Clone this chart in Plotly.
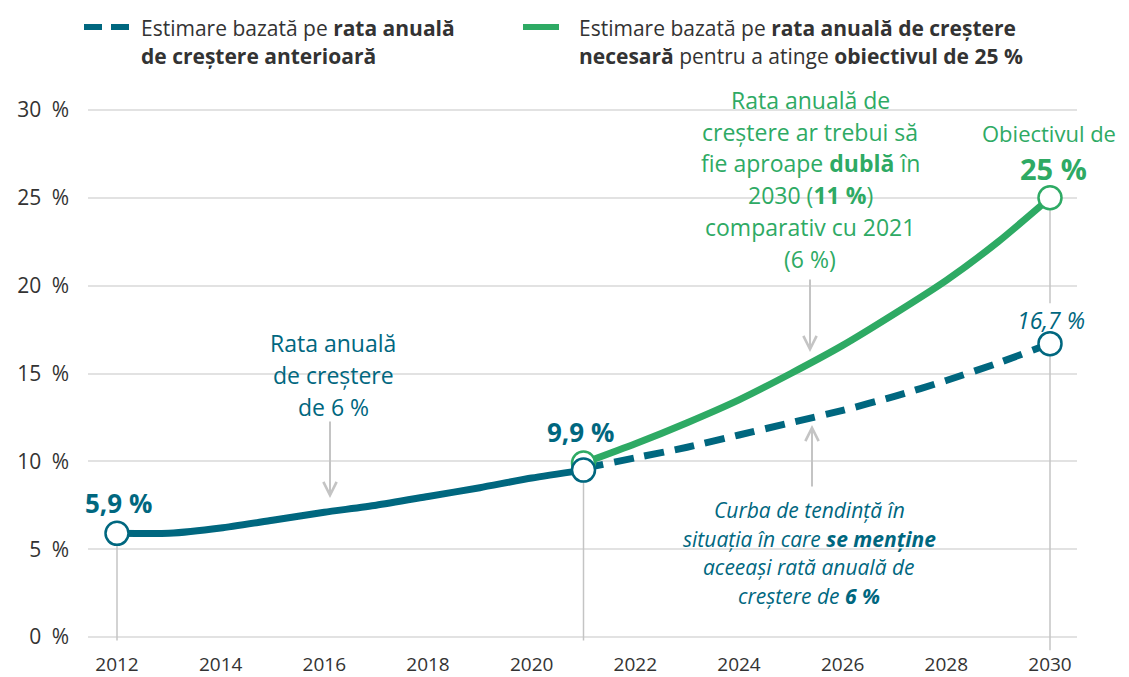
import plotly.graph_objects as go

# ---------------- data ----------------
hist_years = [2012, 2013, 2014, 2015, 2016, 2017, 2018, 2019, 2020, 2021]
hist_vals = [5.9, 5.9, 6.2, 6.65, 7.1, 7.5, 8.0, 8.5, 9.05, 9.5]

proj_years = [2021, 2022, 2023, 2024, 2025, 2026, 2027, 2028, 2029, 2030]
trend_vals = [9.6, 10.2, 10.8, 11.5, 12.2, 12.9, 13.7, 14.6, 15.6, 16.7]
target_vals = [9.9, 11.0, 12.2, 13.5, 15.0, 16.6, 18.4, 20.3, 22.5, 25.0]

y_tick_vals = [0, 5, 10, 15, 20, 25, 30]
y_tick_text = ["0\u2002%", "5\u2002%", "10\u2002%", "15\u2002%", "20\u2002%", "25\u2002%", "30\u2002%"]
x_tick_vals = [2012, 2014, 2016, 2018, 2020, 2022, 2024, 2026, 2028, 2030]

# ---------------- style ----------------
TEAL = "#00677f"
GREEN = "#2eaa64"
TXT = "#333333"
GRAY = "#c4c4c4"
GRID = "#e2e2e2"
FONT = "Open Sans"

OFF = 8                      # page body margin
W, H = 1129 - OFF, 677 - OFF
SL, SR, ST, SB = 88, 1077, 105, 651   # plot area in screen pixels


def px(xp):
    return (xp - SL) / (SR - SL)


def py(yp):
    return (SB - yp) / (SB - ST)


fig = go.Figure()

fig.add_trace(go.Scatter(x=hist_years, y=hist_vals, mode="lines",
                         line=dict(color=TEAL, width=7, shape="spline", smoothing=0.6),
                         showlegend=False, hoverinfo="skip"))
fig.add_trace(go.Scatter(x=proj_years, y=trend_vals, mode="lines",
                         line=dict(color=TEAL, width=7, dash="20px,11px", shape="spline", smoothing=0.6),
                         showlegend=False, hoverinfo="skip"))
fig.add_trace(go.Scatter(x=proj_years, y=target_vals, mode="lines",
                         line=dict(color=GREEN, width=7, shape="spline", smoothing=0.6),
                         showlegend=False, hoverinfo="skip"))
# circles
fig.add_trace(go.Scatter(x=[proj_years[0], proj_years[-1]], y=[target_vals[0], target_vals[-1]],
                         mode="markers",
                         marker=dict(symbol="circle", size=23, color="white", line=dict(color=GREEN, width=2.5)),
                         showlegend=False, hoverinfo="skip"))
fig.add_trace(go.Scatter(x=[hist_years[0], hist_years[-1], proj_years[-1]],
                         y=[hist_vals[0], hist_vals[-1], trend_vals[-1]],
                         mode="markers",
                         marker=dict(symbol="circle", size=23, color="white", line=dict(color=TEAL, width=2.5)),
                         showlegend=False, hoverinfo="skip"))

shapes = []
# white masks behind text blocks (between grid and traces)
for (x0, x1, y0, y1) in [(690, 928, 85, 274), (257, 410, 325, 422), (672, 946, 495, 610)]:
    shapes.append(dict(type="rect", xref="paper", yref="paper", x0=px(x0), x1=px(x1),
                       y0=py(y1), y1=py(y0), fillcolor="white", line=dict(width=0), layer="between"))
# vertical drop lines
for xv, ytop in [(hist_years[0], hist_vals[0]), (hist_years[-1], hist_vals[-1])]:
    shapes.append(dict(type="line", xref="x", yref="y", x0=xv, x1=xv, y0=-0.2, y1=ytop,
                       line=dict(color=GRAY, width=1.5), layer="between"))
shapes.append(dict(type="line", xref="x", yref="y", x0=proj_years[-1], x1=proj_years[-1],
                   y0=-0.75, y1=trend_vals[-1], line=dict(color=GRAY, width=1.5), layer="between"))
shapes.append(dict(type="line", xref="x", yref="y", x0=proj_years[-1], x1=proj_years[-1],
                   y0=19.0, y1=target_vals[-1], line=dict(color=GRAY, width=1.5), layer="between"))
# legend icons
shapes.append(dict(type="line", xref="paper", yref="paper", x0=px(84), x1=px(102), y0=py(27), y1=py(27),
                   line=dict(color=TEAL, width=6)))
shapes.append(dict(type="line", xref="paper", yref="paper", x0=px(111), x1=px(129), y0=py(27), y1=py(27),
                   line=dict(color=TEAL, width=6)))
shapes.append(dict(type="line", xref="paper", yref="paper", x0=px(523), x1=px(559), y0=py(27), y1=py(27),
                   line=dict(color=GREEN, width=6)))

ann = []


def text(x, y, s, color=TXT, size=18, anchor="center", italic=False):
    ann.append(dict(x=px(x), y=py(y), xref="paper", yref="paper", text=s, showarrow=False,
                    xanchor=anchor, yanchor="middle",
                    font=dict(family=FONT, size=size, color=color,
                              style="italic" if italic else "normal")))


# legend texts
text(139, 28, "Estimare bazată pe <b>rata anuală</b>", size=21, anchor="left")
text(139, 56, "<b>de creștere anterioară</b>", size=21, anchor="left")
text(577, 28, "Estimare bazată pe <b>rata anuală de creștere</b>", size=21, anchor="left")
text(577, 56, "<b>necesară</b> pentru a atinge <b>obiectivul de 25 %</b>", size=21, anchor="left")

# green block
for i, s in enumerate(["Rata anuală de", "creștere ar trebui să", "fie aproape <b>dublă</b> în",
                       "2030 (<b>11 %</b>)", "comparativ cu 2021", "(6 %)"]):
    text(810, 100 + 31.7 * i, s, color=GREEN, size=23)
# teal left block
for i, s in enumerate(["Rata anuală", "de creștere", "de 6 %"]):
    text(333, 343 + 32 * i, s, color=TEAL, size=23)
# italic block
for i, s in enumerate(["Curba de tendință în", "situația în care <b>se menține</b>",
                       "aceeași rată anuală de", "creștere de <b>6 %</b>"]):
    text(809, 510 + 28.5 * i, s, color=TEAL, size=21, italic=True)

text(1118, 133, "Obiectivul de", color=GREEN, size=22, anchor="right")
text(1053, 168, "<b>25 %</b>", color=GREEN, size=29)
text(118, 503, "<b>5,9 %</b>", color=TEAL, size=26)
text(580, 432, "<b>9,9 %</b>", color=TEAL, size=26)
text(1051, 320, "16,7 %", color=TEAL, size=23, italic=True)

# arrows
for hx, hy, tx, ty in [(330, 498, 330, 420), (810, 352, 810, 278), (812, 425, 812, 488)]:
    ann.append(dict(x=px(hx), y=py(hy), xref="paper", yref="paper", text="", showarrow=True,
                    ax=tx - hx, ay=ty - hy, axref="pixel", ayref="pixel",
                    arrowhead=5, arrowsize=1.3, arrowwidth=2, arrowcolor=GRAY, standoff=0))

fig.update_layout(
    width=W, height=H,
    margin=dict(l=SL - OFF, r=(W + OFF) - SR, t=ST - OFF, b=(H + OFF) - SB, autoexpand=False),
    paper_bgcolor="white", plot_bgcolor="white",
    font=dict(family=FONT, color=TXT, size=20),
    shapes=shapes, annotations=ann,
    xaxis=dict(range=[2011.4405, 2030.5209], tickvals=x_tick_vals, showgrid=False, zeroline=False,
               showline=False, ticks="", tickfont=dict(size=19, color=TXT), ticklabelstandoff=0,
               automargin=False),
    yaxis=dict(range=[-0.797, 30.285], tickvals=y_tick_vals, ticktext=y_tick_text, showgrid=True,
               gridcolor=GRID, gridwidth=2, zeroline=False, showline=False, ticks="",
               tickfont=dict(size=21, color=TXT), ticklabelstandoff=18, automargin=False),
)

fig.write_html("out.html")
